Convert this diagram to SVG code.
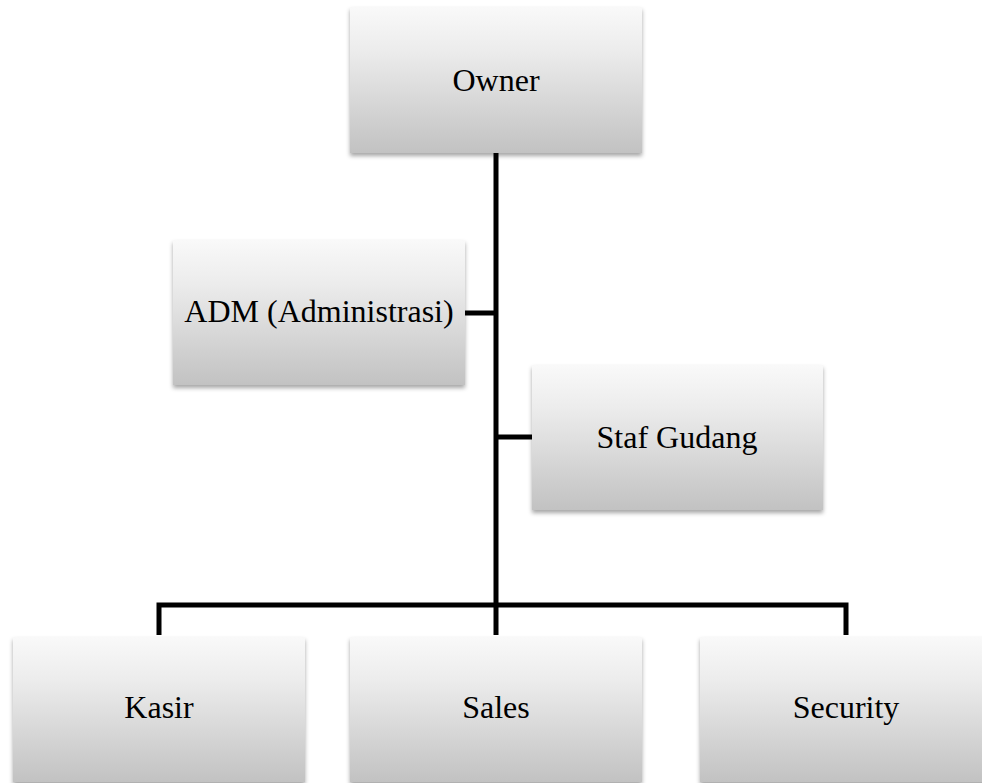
<svg xmlns="http://www.w3.org/2000/svg" width="982" height="783" viewBox="0 0 982 783">
<defs>
<linearGradient id="g" x1="0" y1="0" x2="0" y2="1">
<stop offset="0" stop-color="#f9f9f9"/>
<stop offset="0.3" stop-color="#ececec"/>
<stop offset="1" stop-color="#c2c2c2"/>
</linearGradient>
<filter id="sh" x="-5%" y="-5%" width="110%" height="115%">
<feDropShadow dx="0" dy="3" stdDeviation="2" flood-color="#000" flood-opacity="0.35"/>
</filter>
</defs>
<style>
.box{fill:url(#g);filter:url(#sh);}
.t{font-family:"Liberation Serif","Times New Roman",serif;font-size:32px;fill:#000;text-anchor:middle;}
.c{stroke:#000;stroke-width:5;fill:none;stroke-linecap:butt;stroke-linejoin:miter;}
</style>
<rect width="982" height="783" fill="#fff"/>
<g id="connectors">
<path class="c" d="M496 153 V605"/>
<path class="c" d="M465 313 H496"/>
<path class="c" d="M496 437 H532"/>
<path class="c" d="M159 635 V605 H846 V635"/>
<path class="c" d="M496 605 V635"/>
</g>
<g id="owner"><rect class="box" x="350" y="7" width="292" height="146"/><text class="t" x="496" y="91">Owner</text></g>
<g id="adm"><rect class="box" x="173" y="240" width="292" height="145"/><text class="t" x="319" y="322">ADM (Administrasi)</text></g>
<g id="staf-gudang"><rect class="box" x="532" y="365" width="291" height="145"/><text class="t" x="677" y="448">Staf Gudang</text></g>
<g id="kasir"><rect class="box" x="13" y="637" width="292" height="145"/><text class="t" x="159" y="718">Kasir</text></g>
<g id="sales"><rect class="box" x="350" y="637" width="292" height="145"/><text class="t" x="496" y="718">Sales</text></g>
<g id="security"><rect class="box" x="700" y="637" width="292" height="145"/><text class="t" x="846" y="718">Security</text></g>
</svg>
